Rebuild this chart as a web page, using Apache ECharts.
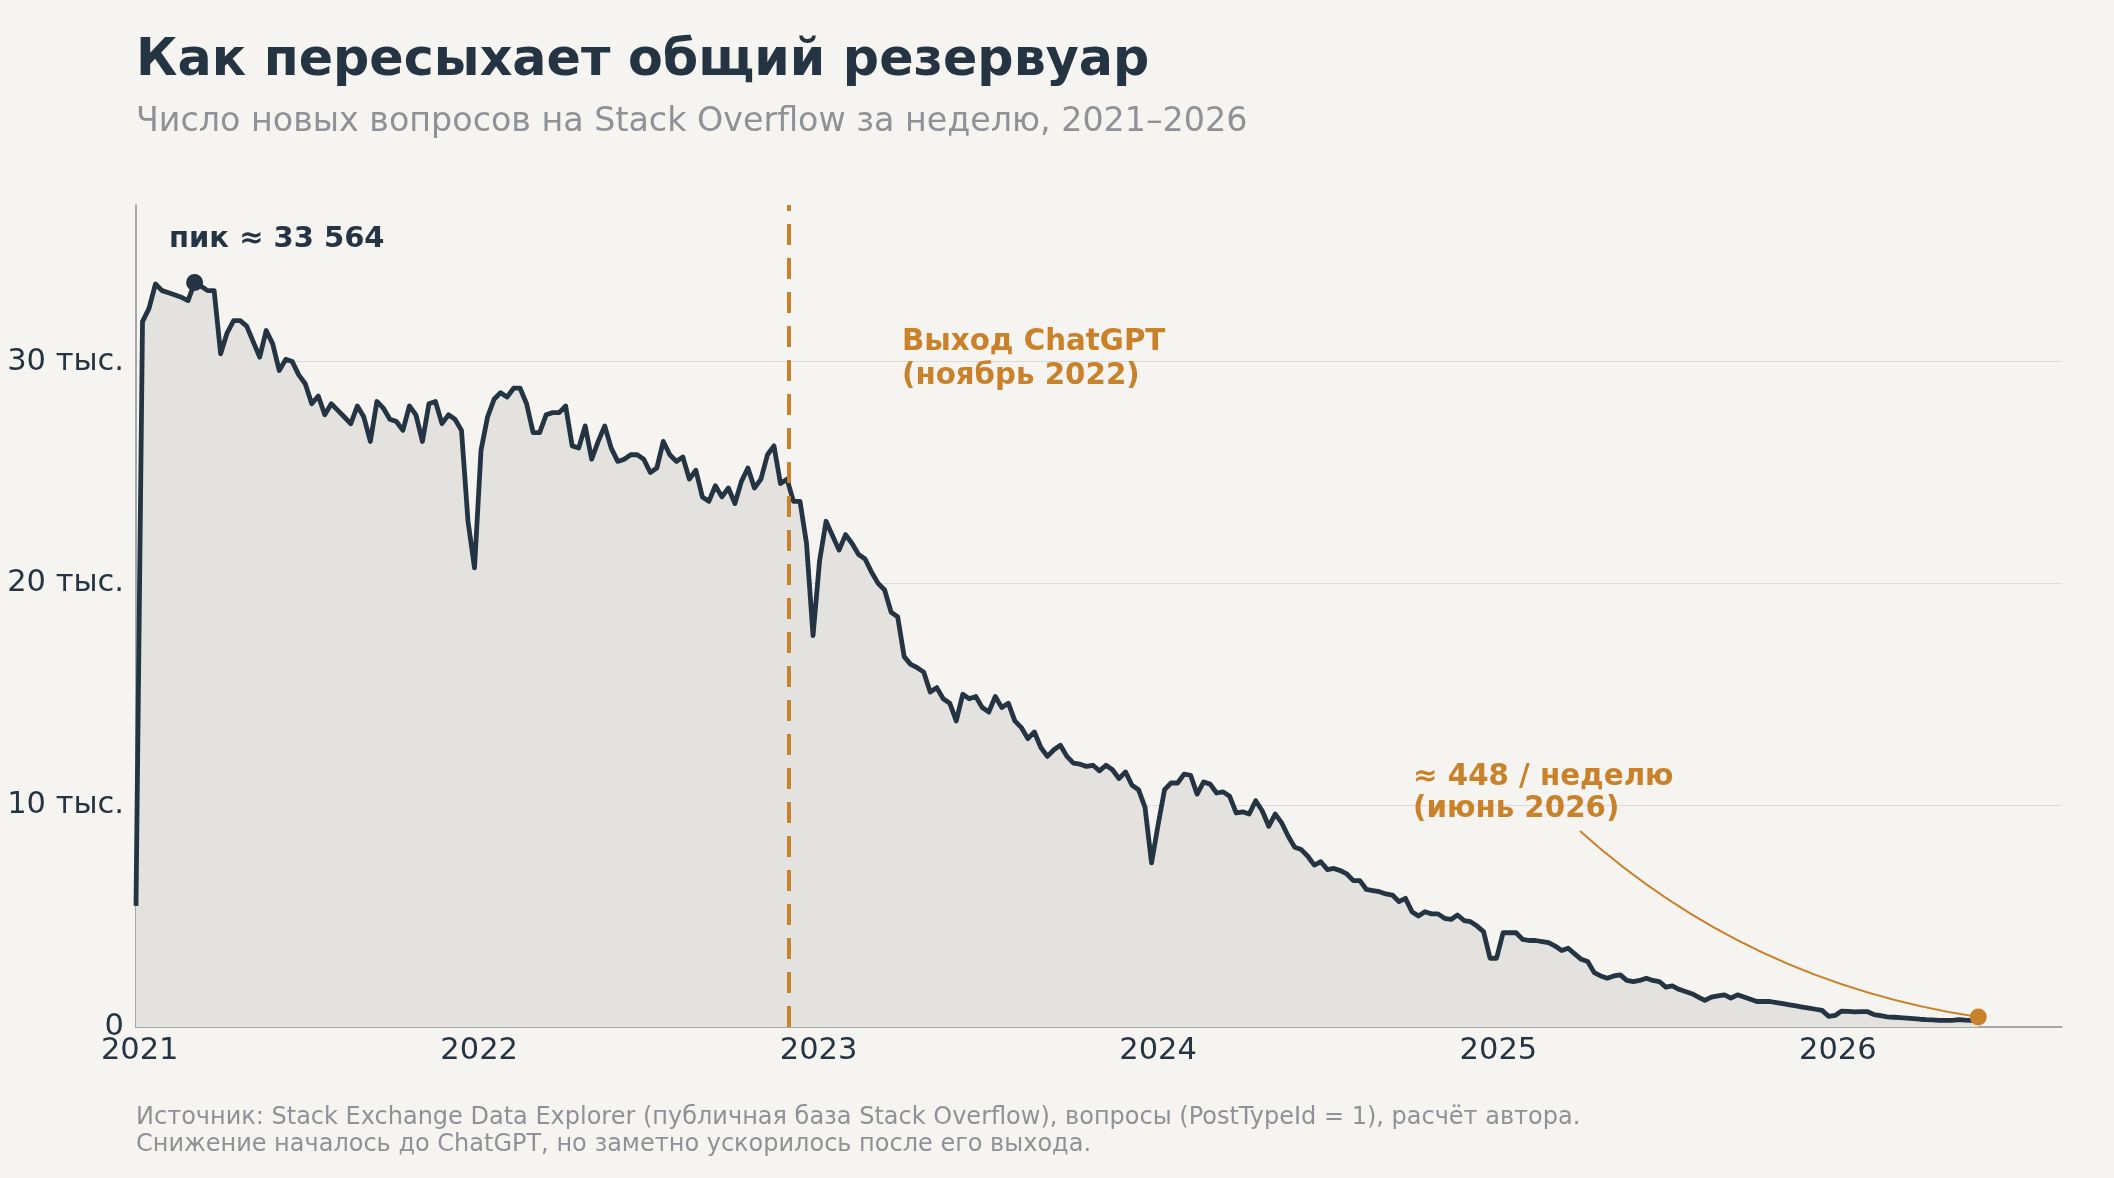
<!DOCTYPE html>
<html>
<head>
<meta charset="utf-8">
<script src="https://cdn.jsdelivr.net/npm/echarts@6/dist/echarts.min.js"></script>
<style>
  html, body { margin: 0; padding: 0; background: #f5f4f0; }
  #app { width: 2114px; height: 1178px; }
</style>
</head>
<body>
<div id="app"></div>
<script>
// недельные данные, недели с понедельника, первая — 2020-12-28
const startDate = [2020, 11, 28];
const weeklyQuestions = [
  5460, 31800, 32400, 33500, 33200, 33100, 33000, 32900, 32750, 33564,
  33400, 33200, 33200, 30350, 31300, 31850, 31850, 31600, 30900, 30200,
  31400, 30800, 29600, 30100, 30000, 29400, 29000, 28100, 28450, 27600,
  28100, 27800, 27500, 27200, 28000, 27500, 26400, 28200, 27900, 27400,
  27300, 26900, 28000, 27600, 26400, 28100, 28200, 27200, 27600, 27400,
  26900, 22800, 20700, 26000, 27500, 28300, 28600, 28400, 28800, 28800,
  28100, 26800, 26800, 27600, 27700, 27700, 28000, 26200, 26100, 27100,
  25600, 26400, 27100, 26100, 25500, 25600, 25800, 25800, 25600, 25000,
  25200, 26400, 25800, 25500, 25700, 24700, 25100, 23900, 23700, 24400,
  23900, 24300, 23600, 24600, 25200, 24300, 24700, 25800, 26200, 24500,
  24700, 23700, 23700, 21800, 17650, 21000, 22800, 22150, 21500, 22200,
  21800, 21300, 21100, 20500, 20000, 19700, 18700, 18500, 16700, 16350,
  16200, 16000, 15100, 15300, 14800, 14600, 13800, 15000, 14800, 14900,
  14400, 14200, 14900, 14400, 14600, 13800, 13500, 13000, 13300, 12600,
  12200, 12500, 12700, 12200, 11900, 11850, 11750, 11800, 11550, 11800,
  11600, 11200, 11500, 10900, 10700, 9900, 7400, 9100, 10700, 11000,
  11000, 11400, 11350, 10500, 11050, 10950, 10550, 10600, 10400, 9650,
  9700, 9600, 10200, 9750, 9050, 9600, 9200, 8600, 8100, 8000,
  7700, 7300, 7450, 7100, 7150, 7050, 6900, 6600, 6600, 6200,
  6150, 6100, 6000, 5950, 5650, 5800, 5200, 5000, 5200, 5100,
  5100, 4900, 4850, 5050, 4800, 4750, 4550, 4300, 3100, 3100,
  4250, 4250, 4250, 3950, 3900, 3900, 3850, 3800, 3650, 3450,
  3550, 3300, 3050, 2950, 2450, 2300, 2200, 2300, 2350, 2100,
  2050, 2100, 2200, 2100, 2050, 1800, 1850, 1700, 1600, 1500,
  1350, 1200, 1350, 1400, 1450, 1300, 1450, 1350, 1250, 1150,
  1150, 1150, 1100, 1050, 1000, 950, 900, 850, 800, 750,
  480, 520, 720, 700, 680, 690, 690, 560, 510, 460,
  440, 420, 400, 380, 350, 330, 320, 300, 300, 300,
  330, 310, 300, 448
];
const chatgptDate = "2022-11-30";
const xRange = ["2020-12-28", "2026-08-30"];
const yMax = 37060;

const ink = "#243443";
const accent = "#c9812a";
const font = "DejaVu Sans";

const t0 = Date.UTC(startDate[0], startDate[1], startDate[2]);
const dates = weeklyQuestions.map((_, i) =>
  new Date(t0 + i * 7 * 864e5).toISOString().slice(0, 10)
);
const lineData = dates.map((d, i) => [d, weeklyQuestions[i]]);

const peakValue = Math.max(...weeklyQuestions);
const peakIdx = weeklyQuestions.indexOf(peakValue);
const lastIdx = weeklyQuestions.length - 1;

const chart = echarts.init(document.getElementById("app"));

const option = {
  backgroundColor: "#f5f4f0",
  animation: false,
  textStyle: { fontFamily: font },
  grid: { left: 136, right: 52, top: 205, bottom: 151, containLabel: false },
  xAxis: {
    type: "time",
    min: xRange[0],
    max: xRange[1],
    minInterval: 365 * 864e5,
    maxInterval: 366 * 864e5,
    axisLine: { lineStyle: { color: "#8a8d91", width: 1.5 } },
    axisTick: { show: false },
    splitLine: { show: false },
    axisLabel: {
      formatter: "{yyyy}",
      color: ink,
      fontSize: 30.5,
      margin: 9,
      fontFamily: font,
      showMinLabel: false,
      showMaxLabel: false
    }
  },
  yAxis: {
    type: "value",
    min: 0,
    max: yMax,
    interval: 10000,
    axisLine: { show: true, lineStyle: { color: "#8a8d91", width: 1.5 } },
    axisTick: { show: false },
    splitLine: {
      show: true,
      showMinLine: false,
      showMaxLine: false,
      lineStyle: { color: "#dcdbd8", width: 1.2 }
    },
    axisLabel: {
      showMaxLabel: false,
      color: ink,
      fontSize: 30.5,
      margin: 12,
      fontFamily: font,
      formatter: (v) => (v === 0 ? "0" : v / 1000 + " тыс.")
    }
  },
  series: [
    {
      type: "line",
      data: lineData,
      symbol: "none",
      lineStyle: { color: ink, width: 4.8, join: "round" },
      areaStyle: { color: "#e3e2df", opacity: 1 },
      z: 3,
      markLine: {
        silent: true,
        symbol: ["none", "none"],
        label: { show: false },
        lineStyle: { color: accent, width: 4, type: [21, 13] },
        data: [{ xAxis: chatgptDate }]
      }
    },
    {
      type: "scatter",
      data: [[dates[peakIdx], peakValue]],
      symbolSize: 17,
      itemStyle: { color: ink, opacity: 1 },
      z: 5
    },
    {
      type: "scatter",
      data: [[dates[lastIdx], weeklyQuestions[lastIdx]]],
      symbolSize: 17,
      itemStyle: { color: accent, opacity: 1 },
      z: 6
    }
  ]
};

chart.setOption(option);

// подписи и стрелка
const end = chart.convertToPixel({ seriesIndex: 2 }, [dates[lastIdx], weeklyQuestions[lastIdx]]);
const start = [1580, 831];
const ctrl = [1748, 982];

chart.setOption({
  graphic: [
    {
      type: "text", left: 136, top: 36,
      style: { text: "Как пересыхает общий резервуар", font: "bold 50.7px " + font, fill: ink }
    },
    {
      type: "text", left: 136, top: 106,
      style: { text: "Число новых вопросов на Stack Overflow за неделю, 2021–2026", font: "33.3px " + font, fill: "#8e9196" }
    },
    {
      type: "text", left: 136, top: 1104,
      style: {
        text: "Источник: Stack Exchange Data Explorer (публичная база Stack Overflow), вопросы (PostTypeId = 1), расчёт автора.\nСнижение началось до ChatGPT, но заметно ускорилось после его выхода.",
        font: "24px " + font, fill: "#8e9196", lineHeight: 27
      }
    },
    {
      type: "text", left: 169, top: 225,
      style: { text: "пик ≈ 33 564", font: "bold 29px " + font, fill: ink }
    },
    {
      type: "text", left: 902, top: 326,
      style: { text: "Выход ChatGPT\n(ноябрь 2022)", font: "bold 29.3px " + font, fill: accent, lineHeight: 33.5 }
    },
    {
      type: "text", left: 1413, top: 761,
      style: { text: "≈ 448 / неделю\n(июнь 2026)", font: "bold 29.3px " + font, fill: accent, lineHeight: 32 }
    },
    {
      type: "bezierCurve",
      shape: { x1: start[0], y1: start[1], x2: end[0], y2: end[1], cpx1: ctrl[0], cpy1: ctrl[1] },
      style: { stroke: accent, lineWidth: 2, fill: null },
      z: 4
    }
  ]
});
</script>
</body>
</html>
